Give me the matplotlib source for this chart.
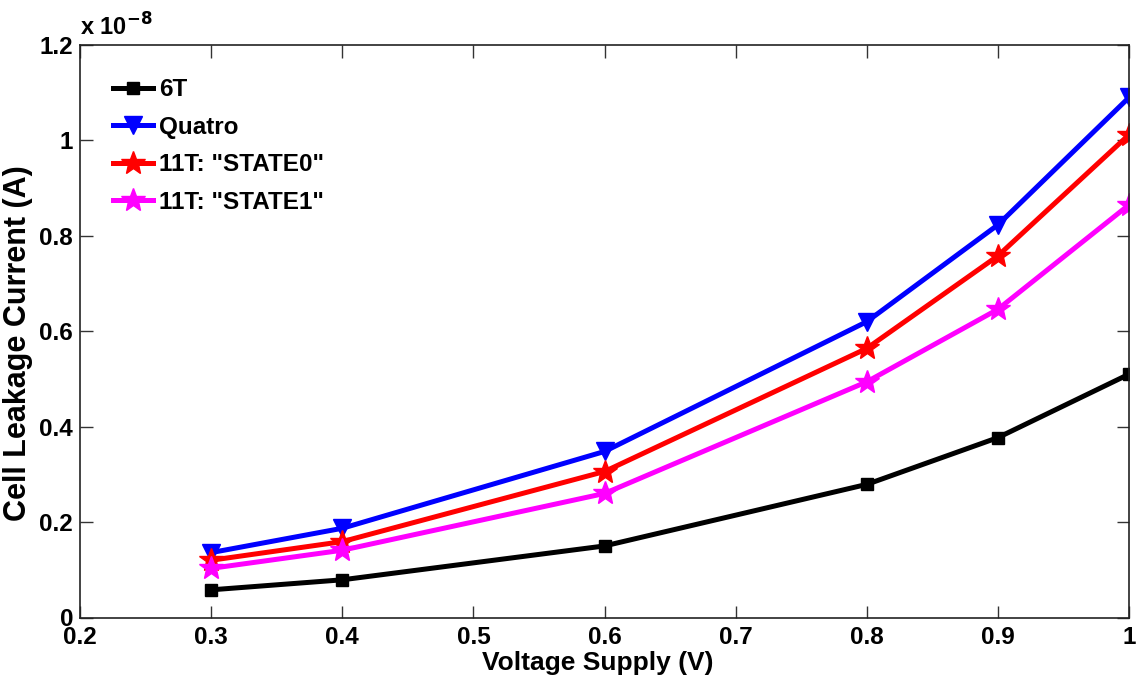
import matplotlib
matplotlib.use("Agg")
import matplotlib.pyplot as plt
from matplotlib.ticker import FuncFormatter

voltage = [0.3, 0.4, 0.6, 0.8, 0.9, 1.0]
leak_6t = [0.058e-8, 0.079e-8, 0.150e-8, 0.279e-8, 0.377e-8, 0.510e-8]
leak_quatro = [0.136e-8, 0.187e-8, 0.348e-8, 0.620e-8, 0.823e-8, 1.090e-8]
leak_11t_s0 = [0.120e-8, 0.159e-8, 0.306e-8, 0.564e-8, 0.758e-8, 1.012e-8]
leak_11t_s1 = [0.103e-8, 0.141e-8, 0.260e-8, 0.494e-8, 0.646e-8, 0.865e-8]
labels = ['6T', 'Quatro', '11T: "STATE0"', '11T: "STATE1"']

xticks = [0.2, 0.3, 0.4, 0.5, 0.6, 0.7, 0.8, 0.9, 1.0]
yticks = [0, 0.2e-8, 0.4e-8, 0.6e-8, 0.8e-8, 1.0e-8, 1.2e-8]

plt.rcParams['font.family'] = ['Liberation Sans', 'DejaVu Sans']
plt.rcParams['font.weight'] = 'bold'

fig = plt.figure(figsize=(11.39, 6.85), dpi=100)
ax = fig.add_axes([80/1139, 1 - 617.5/685, (1129-80)/1139, (617.5-45)/685])

ax.plot(voltage, leak_6t, color='black', lw=3.6, marker='s', ms=9, label=labels[0])
ax.plot(voltage, leak_quatro, color='#0000ff', lw=3.6, marker='v', ms=13, label=labels[1])
ax.plot(voltage, leak_11t_s0, color='#ff0000', lw=3.6, marker='*', ms=18, label=labels[2])
ax.plot(voltage, leak_11t_s1, color='#ff00ff', lw=3.6, marker='*', ms=18, label=labels[3])

ax.set_xlim(0.2, 1.0)
ax.set_ylim(0, 1.2e-8)
ax.set_xticks(xticks)
ax.set_yticks(yticks)
ax.xaxis.set_major_formatter(FuncFormatter(lambda v, p: ('%g' % round(v, 2))))
ax.yaxis.set_major_formatter(FuncFormatter(lambda v, p: ('%g' % round(v * 1e8, 2))))
ax.tick_params(direction='in', length=9, width=1, top=True, right=True,
               labelsize=17.5, color='#333333')
ax.tick_params(axis='y', pad=5)
ax.tick_params(axis='x', pad=6)
for lab in ax.get_xticklabels() + ax.get_yticklabels():
    lab.set_fontweight('bold')
for s in ax.spines.values():
    s.set_linewidth(1.2)
    s.set_color('#222222')

ax.text(0.0, 1.008, r'x 10$^{\mathbf{-8}}$', transform=ax.transAxes, fontsize=17,
        fontweight='bold', ha='left', va='bottom')

ax.set_xlabel('Voltage Supply (V)', fontsize=19, fontweight='bold')
ax.xaxis.set_label_coords(0.494, -0.058)
ax.set_ylabel('Cell Leakage Current (A)', fontsize=22, fontweight='bold')
ax.yaxis.set_label_coords(-0.045, 0.479)

leg = ax.legend(loc='upper left', bbox_to_anchor=(0.022, 0.959), frameon=False,
                prop={'weight': 'bold', 'size': 17.5}, handlelength=1.65,
                handletextpad=0.25, labelspacing=0.6, borderaxespad=0)

fig.savefig('out.png', dpi=100)
